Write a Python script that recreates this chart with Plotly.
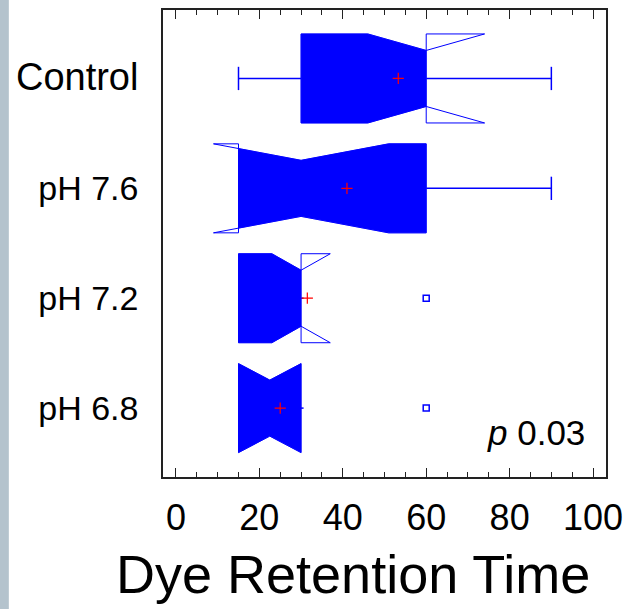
import plotly.graph_objects as go

# ---- data (bottom to top) ----
groups = ["pH 6.8", "pH 7.2", "pH 7.6", "Control"]
lower_whisker = [15, 15, 15, 15]
q1 = [15, 15, 15, 30]
median = [22.5, 30, 30, 60]
q3 = [30, 30, 60, 60]
upper_whisker = [30, 30, 90, 90]
notch_span = [7.5, 7, 21, 14]
means = [25, 31.5, 41, 53.3]
outliers = [[60], [60], [], []]
tick_values = [0, 20, 40, 60, 80, 100]

BLUE = "#0000ff"
W = 0.405      # half box height (category units)
WN = 0.255     # half height at the notch waist
CAP = 0.106    # half whisker-cap height


def half_h(x, m, s):
    d = abs(x - m)
    if s <= 0 or d >= s:
        return W
    return WN + (W - WN) * d / s


fig = go.Figure()

for i, name in enumerate(groups):
    c = i
    a, m, b, s = q1[i], median[i], q3[i], notch_span[i]
    # filled body: notch shape clipped to [q1, q3]
    keys = sorted({a, b, m, m - s, m + s})
    keys = [k for k in keys if a <= k <= b]
    xs = keys + keys[::-1] + [keys[0]]
    ys = [c + half_h(k, m, s) for k in keys] + [c - half_h(k, m, s) for k in keys[::-1]]
    ys.append(ys[0])
    fig.add_trace(go.Scatter(x=xs, y=ys, mode="lines", fill="toself", fillcolor=BLUE,
                             line=dict(color=BLUE, width=0.5), hoverinfo="skip", showlegend=False))
    # full notched outline (shows folded notches)
    ox = [a, a, m - s, m, m + s, b, b, m + s, m, m - s, a]
    oy = [c - W, c + W, c + W, c + WN, c + W, c + W, c - W, c - W, c - WN, c - W, c - W]
    fig.add_trace(go.Scatter(x=ox, y=oy, mode="lines", line=dict(color=BLUE, width=1),
                             hoverinfo="skip", showlegend=False))
    # whiskers
    lw, uw = lower_whisker[i], upper_whisker[i]
    wx, wy = [], []
    if lw < a:
        wx += [lw, a, None, lw, lw, None]
        wy += [c, c, None, c - CAP, c + CAP, None]
    if uw > b:
        wx += [b, uw, None, uw, uw, None]
        wy += [c, c, None, c - CAP, c + CAP, None]
    else:
        wx += [b, b + 0.6, None]
        wy += [c, c, None]
    fig.add_trace(go.Scatter(x=wx, y=wy, mode="lines", line=dict(color=BLUE, width=1.5),
                             hoverinfo="skip", showlegend=False))
    # mean
    fig.add_trace(go.Scatter(x=[means[i]], y=[c], mode="markers",
                             marker=dict(symbol="cross-thin", size=8, line=dict(color="red", width=1.2)),
                             hoverinfo="skip", showlegend=False))
    # outliers
    if outliers[i]:
        fig.add_trace(go.Scatter(x=outliers[i], y=[c] * len(outliers[i]), mode="markers",
                                 marker=dict(symbol="square-open", size=6, color=BLUE,
                                             line=dict(color=BLUE, width=1.5)),
                                 hoverinfo="skip", showlegend=False))

tick_text = [g if g != "Control" else "<span style='font-size:38px'>Control</span>" for g in groups]

fig.update_layout(
    width=627, height=609,
    margin=dict(l=163, r=21, t=10, b=132, autoexpand=False),
    paper_bgcolor="white", plot_bgcolor="white",
    font=dict(family="Liberation Sans, Arial, sans-serif", color="black"),
    xaxis=dict(range=[-3.1, 103.1], tickvals=tick_values, ticks="inside", ticklen=9,
               tickcolor="#222", tickwidth=1, automargin=False, ticklabelstandoff=8,
               minor=dict(dtick=5, tick0=0, ticks="inside", ticklen=5, tickcolor="#222", tickwidth=1),
               showline=True, linecolor="#222", linewidth=1.5, mirror="allticks",
               showgrid=False, zeroline=False, tickfont=dict(size=36)),
    yaxis=dict(range=[-0.627, 3.623], tickvals=list(range(len(groups))), ticktext=tick_text,
               ticks="", showline=True, linecolor="#222", linewidth=1.5, mirror=True,
               automargin=False,
               showgrid=False, zeroline=False, tickfont=dict(size=34), ticklabelstandoff=16),
    annotations=[
        dict(text="<i>p</i> 0.03", x=98.6, y=-0.22, xref="x", yref="y",
             xanchor="right", yanchor="middle", showarrow=False, font=dict(size=35)),
        dict(text="Dye Retention Time", x=0.428, y=-0.208, xref="paper", yref="paper",
             xanchor="center", yanchor="middle", showarrow=False, font=dict(size=54)),
    ],
    shapes=[dict(type="rect", xref="paper", yref="paper", x0=-0.368, x1=-0.348, y0=-0.3, y1=1.05,
                 fillcolor="#b4c3cd", line=dict(width=0), layer="below")],
)

fig.write_html("out.html", config={"displayModeBar": False},
               post_script="document.body.style.margin='0';")
